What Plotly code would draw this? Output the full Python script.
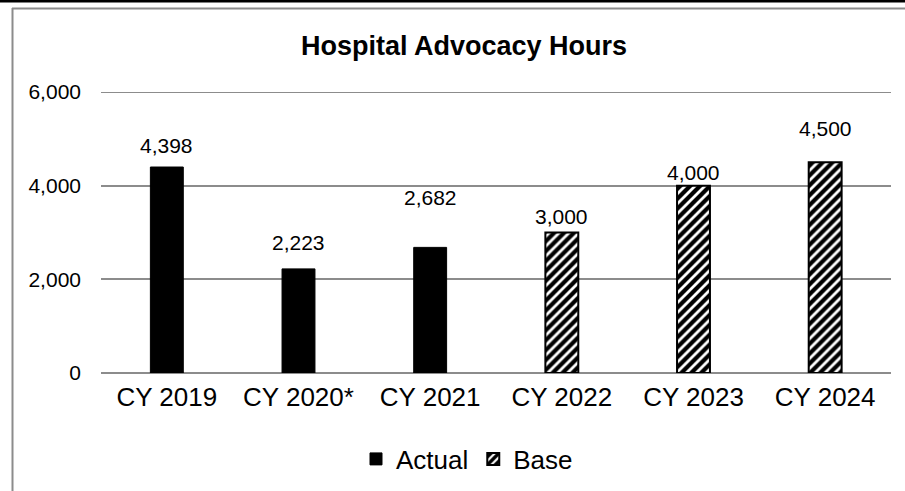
import plotly.graph_objects as go

categories = ["CY 2019", "CY 2020*", "CY 2021", "CY 2022", "CY 2023", "CY 2024"]
actual_values = [4398, 2223, 2682, None, None, None]
base_values = [None, None, None, 3000, 4000, 4500]
y_ticks = [0, 2000, 4000, 6000]
y_tick_labels = ["0", "2,000", "4,000", "6,000"]
title_text = "Hospital Advocacy Hours"

# label lift above bar top (px), styling only
label_lift = [22, 26, 50, 16, 13, 34]

FONT = "Liberation Sans, Arial, sans-serif"

fig = go.Figure()
fig.add_trace(go.Bar(
    name="Actual", x=categories, y=actual_values, width=0.25,
    marker=dict(color="black", line=dict(color="black", width=1)),
))
fig.add_trace(go.Bar(
    name="Base", x=categories, y=base_values, width=0.25,
    marker=dict(color="white", line=dict(color="black", width=2),
                pattern=dict(shape="/", fgcolor="black", bgcolor="white",
                             size=7, solidity=0.6, fgopacity=1)),
))

annotations = []
for i, cat in enumerate(categories):
    v = actual_values[i] if actual_values[i] is not None else base_values[i]
    annotations.append(dict(
        x=cat, y=v, xref="x", yref="y", text=f"{v:,}", showarrow=False,
        yanchor="middle", yshift=label_lift[i],
        font=dict(size=21, color="black", family=FONT),
    ))

W, H = 905, 491
L, R, T, B = 101, 14, 92, 118
pw, ph = W - L - R, H - T - B

def px(x):
    return (x - L) / pw

def py(y):
    return (H - B - y) / ph

shapes = [
    dict(type="line", xref="paper", yref="paper", x0=px(0), x1=px(W), y0=py(1), y1=py(1),
         line=dict(color="black", width=3)),
    dict(type="line", xref="paper", yref="paper", x0=px(12), x1=px(W), y0=py(8.5), y1=py(8.5),
         line=dict(color="#8c8c8c", width=2)),
    dict(type="line", xref="paper", yref="paper", x0=px(12.5), x1=px(12.5), y0=py(8), y1=py(H),
         line=dict(color="#8c8c8c", width=2)),
    dict(type="line", xref="paper", yref="y", x0=0, x1=1, y0=6000, y1=6000,
         line=dict(color="#8c8c8c", width=2), layer="below"),
]

fig.update_layout(
    width=W, height=H,
    margin=dict(l=L, r=R, t=T, b=B, autoexpand=False),
    paper_bgcolor="white", plot_bgcolor="white",
    barmode="overlay",
    font=dict(family=FONT, color="black"),
    title=dict(text="<b>" + title_text + "</b>", x=464 / W, xanchor="center",
               y=1 - 46 / H, yanchor="middle", font=dict(size=27, color="black")),
    showlegend=True,
    legend=dict(orientation="h", x=px(467), xanchor="center", y=py(459), yanchor="middle",
                font=dict(size=26), itemwidth=30, tracegroupgap=0, bgcolor="rgba(0,0,0,0)"),
    shapes=shapes,
    annotations=annotations,
    xaxis=dict(tickfont=dict(size=26), showgrid=False, showline=False, ticks="",
               zeroline=False, ticklabelstandoff=6, automargin=False),
    yaxis=dict(range=[0, 6000], tickvals=y_ticks, ticktext=y_tick_labels,
               tickfont=dict(size=21), showgrid=True, gridcolor="#8c8c8c", gridwidth=2,
               zeroline=True, zerolinecolor="#8c8c8c", zerolinewidth=2,
               showline=False, ticks="", ticklabelstandoff=19, automargin=False),
)

fig.write_html("out.html", config={"displayModeBar": False},
               post_script="document.body.style.margin='0';document.body.style.overflow='hidden';")
